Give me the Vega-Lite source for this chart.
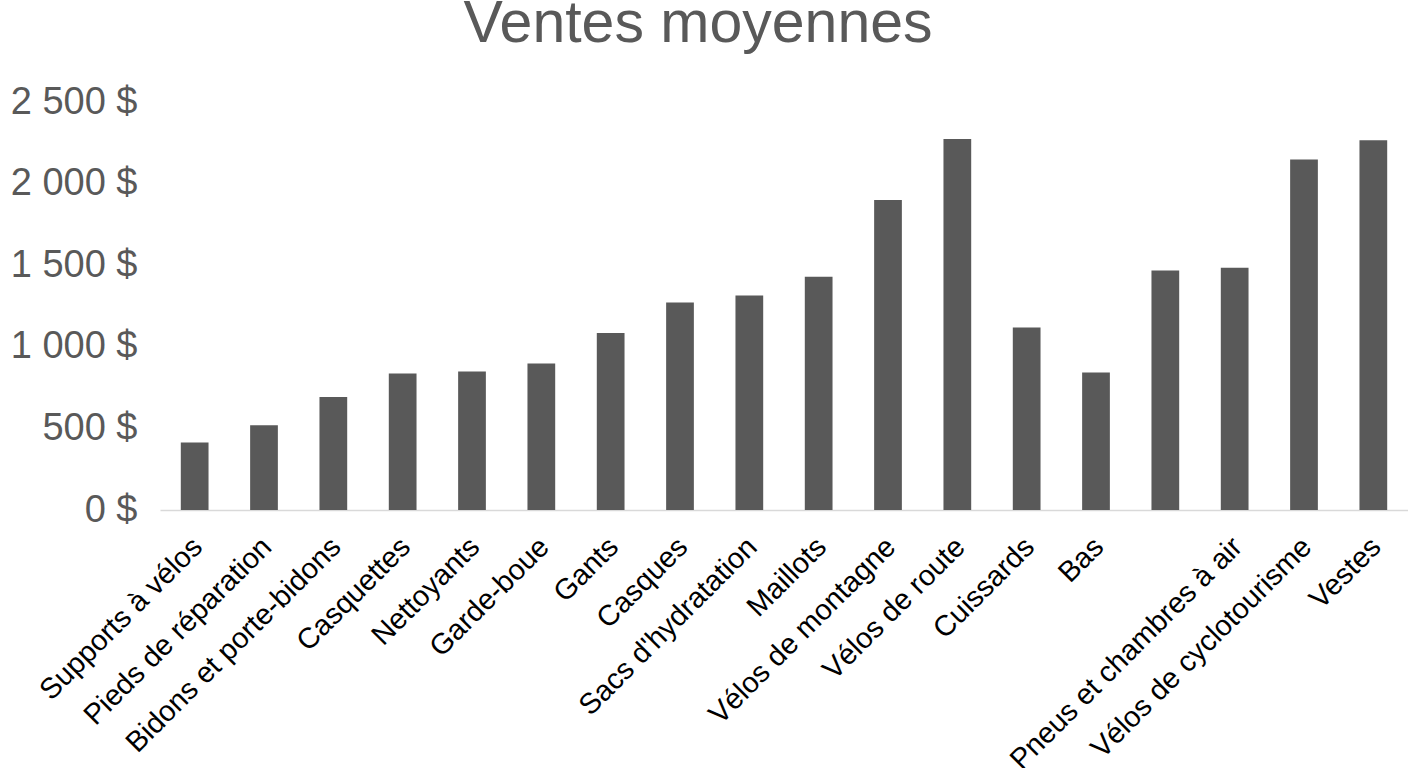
{
  "$schema": "https://vega.github.io/schema/vega-lite/v6.json",
  "autosize": "none",
  "width": 1248,
  "height": 408,
  "padding": {"left": 160, "top": 102, "right": 0, "bottom": 258},
  "background": "white",
  "config": {
    "view": {"stroke": "transparent"},
    "font": "Liberation Sans"
  },
  "title": {
    "text": "Ventes moyennes",
    "fontSize": 59,
    "fontWeight": "normal",
    "color": "#595959",
    "anchor": "middle",
    "frame": "group",
    "baseline": "alphabetic",
    "dx": -86,
    "offset": -18
  },
  "data": {
    "values": [
      {"categorie": "Supports à vélos", "ventes": 414},
      {"categorie": "Pieds de réparation", "ventes": 520},
      {"categorie": "Bidons et porte-bidons", "ventes": 693},
      {"categorie": "Casquettes", "ventes": 837},
      {"categorie": "Nettoyants", "ventes": 849},
      {"categorie": "Garde-boue", "ventes": 898},
      {"categorie": "Gants", "ventes": 1084},
      {"categorie": "Casques", "ventes": 1272},
      {"categorie": "Sacs d'hydratation", "ventes": 1315},
      {"categorie": "Maillots", "ventes": 1429},
      {"categorie": "Vélos de montagne", "ventes": 1900},
      {"categorie": "Vélos de route", "ventes": 2274},
      {"categorie": "Cuissards", "ventes": 1119},
      {"categorie": "Bas", "ventes": 843},
      {"categorie": "Collants", "ventes": 1468},
      {"categorie": "Pneus et chambres à air", "ventes": 1484},
      {"categorie": "Vélos de cyclotourisme", "ventes": 2147},
      {"categorie": "Vestes", "ventes": 2266}
    ]
  },
  "mark": {"type": "bar", "color": "#595959"},
  "encoding": {
    "x": {
      "field": "categorie",
      "type": "nominal",
      "sort": null,
      "scale": {"paddingInner": 0.6, "paddingOuter": 0.3},
      "axis": {
        "title": null,
        "labelAngle": -45,
        "labelAlign": "right",
        "labelBaseline": "top",
        "labelFontSize": 29,
        "labelColor": "#000000",
        "labelPadding": 22,
        "labelOffset": -7,
        "labelLimit": 0,
        "labelOverlap": false,
        "labelExpr": "datum.label == 'Collants' ? '' : datum.label",
        "ticks": false,
        "domainColor": "#d9d9d9",
        "domainWidth": 1.5
      }
    },
    "y": {
      "field": "ventes",
      "type": "quantitative",
      "scale": {"domain": [0, 2500]},
      "axis": {
        "title": null,
        "values": [0, 500, 1000, 1500, 2000, 2500],
        "labelExpr": "replace(format(datum.value, ',d'), ',', ' ') + ' $'",
        "labelFontSize": 38,
        "labelColor": "#595959",
        "labelPadding": 23,
        "domain": false,
        "ticks": false,
        "grid": false
      }
    }
  }
}
